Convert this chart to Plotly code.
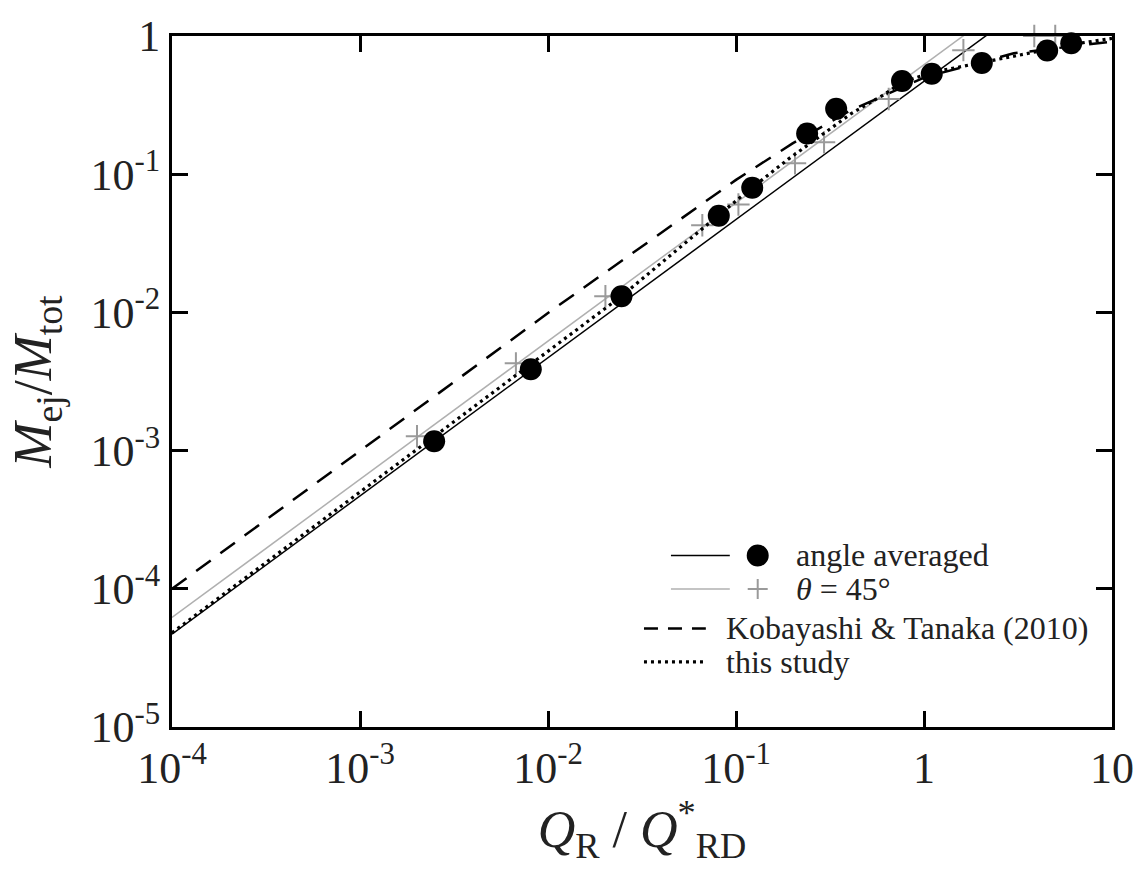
import plotly.graph_objects as go

# ---- data ----
avg_x = [2.48e-3, 8.1e-3, 0.0246, 0.081, 0.122, 0.239, 0.341, 0.764, 1.10, 2.03, 4.52, 6.07]
avg_y = [1.17e-3, 3.88e-3, 0.0131, 0.0501, 0.0797, 0.197, 0.297, 0.472, 0.533, 0.638, 0.785, 0.887]

t45_x = [2.01e-3, 6.75e-3, 0.0202, 0.0662, 0.103, 0.206, 0.294, 0.649, 1.62, 3.86, 4.99]
t45_y = [1.27e-3, 4.28e-3, 0.0131, 0.0427, 0.0603, 0.120, 0.170, 0.350, 0.79, 1.0, 1.0]

# power-law fit lines (end points)
fit_avg_x = [1e-4, 10]
fit_avg_y = [4.7e-5, 4.7]
fit_45_x = [1e-4, 10]
fit_45_y = [6.2e-5, 6.2]

# Kobayashi & Tanaka (2010)
kt_x = [1e-4, 1e-2, 0.1, 0.2, 0.4, 1.0, 3.0, 10.0]
kt_y = [1.0e-4, 9.9e-3, 0.091, 0.167, 0.286, 0.5, 0.75, 0.91]

# this study
ts_x = [1e-4, 1e-3, 1e-2, 0.0246, 0.08, 0.122, 0.189, 0.408, 0.6, 0.764, 1.1, 2.0, 4.5, 6.5, 10.0]
ts_y = [4.8e-5, 5.0e-4, 5.2e-3, 0.0131, 0.050, 0.080, 0.128, 0.273, 0.37, 0.46, 0.545, 0.64, 0.79, 0.88, 0.96]

x_tickvals = [1e-4, 1e-3, 1e-2, 1e-1, 1, 10]
x_ticktext = ["10<sup>-4</sup>", "10<sup>-3</sup>", "10<sup>-2</sup>", "10<sup>-1</sup>", "1", "10"]
y_tickvals = [1e-5, 1e-4, 1e-3, 1e-2, 1e-1, 1]
y_ticktext = ["10<sup>-5</sup>", "10<sup>-4</sup>", "10<sup>-3</sup>", "10<sup>-2</sup>", "10<sup>-1</sup>", "1"]

legend_labels = ["angle averaged", "<i>θ</i> = 45°", "Kobayashi &amp; Tanaka (2010)", "this study"]

FONT = "Liberation Serif"
GRAY_LINE = "#b0b0b0"
GRAY_MARK = "#9a9a9a"

fig = go.Figure()
fig.add_trace(go.Scatter(x=fit_45_x, y=fit_45_y, mode="lines",
                         line=dict(color=GRAY_LINE, width=1.5), showlegend=False))
fig.add_trace(go.Scatter(x=fit_avg_x, y=fit_avg_y, mode="lines",
                         line=dict(color="black", width=1.5), showlegend=False))
fig.add_trace(go.Scatter(x=kt_x, y=kt_y, mode="lines",
                         line=dict(color="black", width=2.5, dash="18px,12px"), showlegend=False))
fig.add_trace(go.Scatter(x=t45_x, y=t45_y, mode="markers", cliponaxis=False,
                         marker=dict(symbol="cross-thin", size=16, color=GRAY_MARK,
                                     line=dict(color=GRAY_MARK, width=2)), showlegend=False))
fig.add_trace(go.Scatter(x=avg_x, y=avg_y, mode="markers", cliponaxis=False,
                         marker=dict(symbol="circle", size=22, color="black"), showlegend=False))
fig.add_trace(go.Scatter(x=ts_x, y=ts_y, mode="lines",
                         line=dict(color="black", width=3.2, dash="3px,4px"), showlegend=False))

# ---- custom legend (paper coordinates) ----
shapes = []
annotations = []
rows_y = [0.2482, 0.1997, 0.1427, 0.0942]
# row 1: black line + black circle
shapes.append(dict(type="line", xref="paper", yref="paper", x0=0.5308, x1=0.5934,
                   y0=rows_y[0], y1=rows_y[0], line=dict(color="black", width=1.5)))
shapes.append(dict(type="circle", xref="paper", yref="paper", xsizemode="pixel", ysizemode="pixel",
                   xanchor=0.6231, yanchor=rows_y[0], x0=-11, x1=11, y0=-11, y1=11,
                   fillcolor="black", line=dict(color="black", width=0)))
# row 2: gray line + gray plus
shapes.append(dict(type="line", xref="paper", yref="paper", x0=0.5308, x1=0.5934,
                   y0=rows_y[1], y1=rows_y[1], line=dict(color=GRAY_LINE, width=1.5)))
shapes.append(dict(type="line", xref="paper", yref="paper", xsizemode="pixel", ysizemode="pixel",
                   xanchor=0.6231, yanchor=rows_y[1], x0=-10, x1=10, y0=0, y1=0,
                   line=dict(color=GRAY_MARK, width=2)))
shapes.append(dict(type="line", xref="paper", yref="paper", xsizemode="pixel", ysizemode="pixel",
                   xanchor=0.6231, yanchor=rows_y[1], x0=0, x1=0, y0=-10, y1=10,
                   line=dict(color=GRAY_MARK, width=2)))
# row 3: dashed
shapes.append(dict(type="line", xref="paper", yref="paper", x0=0.5021, x1=0.5679,
                   y0=rows_y[2], y1=rows_y[2], line=dict(color="black", width=2.5, dash="14px,10px")))
# row 4: dotted
shapes.append(dict(type="line", xref="paper", yref="paper", x0=0.5021, x1=0.5679,
                   y0=rows_y[3], y1=rows_y[3], line=dict(color="black", width=3.2, dash="3px,4px")))

text_x = [0.6614, 0.6614, 0.5870, 0.5870]
for lbl, tx, ty in zip(legend_labels, text_x, rows_y):
    annotations.append(dict(xref="paper", yref="paper", x=tx, y=ty, text=lbl, showarrow=False,
                            xanchor="left", yanchor="middle",
                            font=dict(family=FONT, size=32, color="#222")))

axis_common = dict(type="log", showgrid=False, zeroline=False, showline=True, linecolor="black",
                   linewidth=3, mirror="ticks", ticks="inside", ticklen=16, tickwidth=3,
                   tickcolor="black", tickfont=dict(family=FONT, size=44, color="#222"))

fig.update_layout(
    width=1146, height=870,
    margin=dict(l=172, r=32, t=26, b=143),
    paper_bgcolor="white", plot_bgcolor="white",
    xaxis=dict(range=[-4, 1], tickvals=x_tickvals, ticktext=x_ticktext,
               title=dict(text="<i>Q</i><sub>R</sub> / <i>Q</i><sup>*</sup><sub>RD</sub>",
                          font=dict(family=FONT, size=52, color="#222"), standoff=8),
               **axis_common),
    yaxis=dict(range=[-5, 0], tickvals=y_tickvals, ticktext=y_ticktext,
               title=dict(text="<i>M</i><sub>ej</sub>/<i>M</i><sub>tot</sub>",
                          font=dict(family=FONT, size=54, color="#222"), standoff=22),
               **axis_common),
    shapes=shapes, annotations=annotations,
    showlegend=False,
)

fig.write_html("out.html")
